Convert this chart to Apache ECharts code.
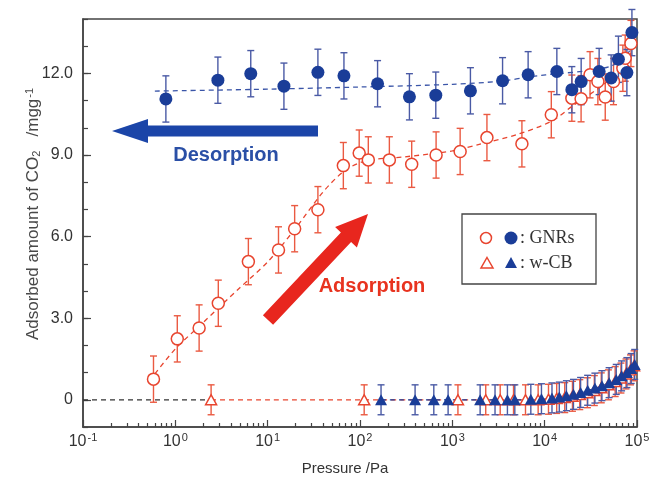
<!DOCTYPE html>
<html>
<head>
<meta charset="utf-8">
<script src="https://cdn.jsdelivr.net/npm/echarts@6/dist/echarts.min.js"></script>
<style>
html, body { margin: 0; padding: 0; background: #fff; }
#chart { width: 656px; height: 480px; }
</style>
</head>
<body>
<div id="chart"></div>
<script>
// GNRs adsorption (open red circles)
var adsP = [0.58, 1.05, 1.81, 2.92, 6.18, 13.1, 19.6, 35, 66, 98, 123, 208, 363, 667, 1215, 2370, 5670, 11800, 19700, 24800, 31000, 37700, 45300, 55700, 70300, 74500, 86000];
var adsV = [0.76, 2.24, 2.64, 3.55, 5.08, 5.51, 6.29, 6.99, 8.61, 9.07, 8.82, 8.82, 8.66, 9.0, 9.13, 9.64, 9.41, 10.48, 11.09, 11.07, 11.95, 11.7, 11.13, 11.7, 12.19, 12.56, 13.1];
// GNRs desorption (filled blue circles)
var desP = [0.79, 2.89, 6.56, 15.0, 35, 67, 155, 343, 662, 1570, 3500, 6620, 13550, 19700, 24850, 38900, 52500, 62900, 77700, 88100];
var desV = [11.06, 11.75, 11.99, 11.53, 12.04, 11.91, 11.62, 11.14, 11.2, 11.36, 11.73, 11.95, 12.07, 11.4, 11.7, 12.07, 11.83, 12.52, 12.03, 13.5];
// w-CB adsorption (open red triangles)
var cbAdsP = [2.44, 111, 1150, 2300, 3300, 4600, 6200, 8500, 11000, 13500, 16500, 20000, 24000, 29000, 34500, 41000, 49000, 58000, 67000, 76000, 85000, 93000];
var cbAdsV = [0, 0, 0, 0, 0, 0, 0, 0, 0.02, 0.05, 0.08, 0.13, 0.19, 0.26, 0.34, 0.44, 0.55, 0.67, 0.8, 0.95, 1.1, 1.25];
// w-CB desorption (filled blue triangles)
var cbDesP = [169, 395, 630, 900, 2000, 2900, 3950, 4750, 7080, 9230, 12000, 14400, 17200, 20500, 24500, 29200, 35000, 41700, 49900, 59600, 68100, 77700, 86500, 94400];
var cbDesV = [0, 0, 0, 0, 0, 0, 0, 0, 0.02, 0.04, 0.07, 0.1, 0.15, 0.2, 0.27, 0.35, 0.43, 0.52, 0.63, 0.75, 0.88, 1.0, 1.15, 1.3];

// dashed guide lines
var adsFitP = [0.6, 1, 2, 5, 10, 20, 40, 70, 120, 300, 1000, 2000, 5000, 12000, 20000, 40000, 70000, 95000];
var adsFitV = [0.95, 1.87, 2.84, 4.12, 5.07, 6.3, 7.65, 8.45, 8.8, 8.93, 9.15, 9.4, 9.75, 10.25, 10.8, 11.5, 12.2, 13.1];
var desFitP = [0.6, 10, 100, 1000, 3500, 7000, 15000, 30000, 50000, 70000, 85000, 92000];
var desFitV = [11.35, 11.42, 11.5, 11.6, 11.72, 11.88, 12.0, 12.1, 12.25, 12.5, 12.9, 13.4];
var cbAdsFitP = [2.44, 8000, 15000, 30000, 50000, 70000, 93000];
var cbAdsFitV = [0, 0, 0.08, 0.28, 0.56, 0.85, 1.25];
var cbDesFitP = [169, 8000, 15000, 30000, 50000, 70000, 94400];
var cbDesFitV = [0, 0, 0.1, 0.35, 0.63, 0.9, 1.3];
var baseP = [0.1, 2.2];
var baseV = [0, 0];

// error bar half widths
var gnrErr = 0.85;
var cbErr = 0.55;

// axis ticks
var yLabels = [0, 3, 6, 9, 12];
var minorX = [];
for (var d = -1; d < 5; d++) {
  for (var k = 2; k < 10; k++) minorX.push(d + Math.log10(k));
}

var red = '#e8452f';
var blue = '#1a3d98';
var errRed = '#ea5a42';
var errBlue = '#4a5aa5';
var axisCol = '#444';
var font = "'Liberation Sans', Arial, sans-serif";

function pairs(xs, ys, err) {
  return xs.map(function (x, i) {
    return err == null ? [x, ys[i]] : [x, ys[i], err];
  });
}

function errorBars(color, cap) {
  return function (params, api) {
    var x = api.value(0), y = api.value(1), e = api.value(2);
    var top = api.coord([x, y + e]);
    var bot = api.coord([x, y - e]);
    var st = { stroke: color, lineWidth: 1.4 };
    return {
      type: 'group',
      children: [
        { type: 'line', shape: { x1: top[0], y1: top[1], x2: bot[0], y2: bot[1] }, style: st },
        { type: 'line', shape: { x1: top[0] - cap, y1: top[1], x2: top[0] + cap, y2: top[1] }, style: st },
        { type: 'line', shape: { x1: bot[0] - cap, y1: bot[1], x2: bot[0] + cap, y2: bot[1] }, style: st }
      ]
    };
  };
}

function errSeries(xs, ys, err, color) {
  return {
    type: 'custom',
    renderItem: errorBars(color, 3.5),
    data: pairs(xs, ys, err),
    encode: { x: 0, y: 1 },
    z: 1,
    silent: true
  };
}

function fitSeries(xs, ys, color, smooth) {
  return {
    type: 'line',
    data: pairs(xs, ys),
    symbol: 'none',
    smooth: smooth,
    lineStyle: { color: color, width: 1.3, type: [5, 4] },
    z: 2,
    silent: true
  };
}

var chart = echarts.init(document.getElementById('chart'));

var option = {
  animation: false,
  backgroundColor: '#fff',
  grid: {
    left: 83, right: 19, top: 19, bottom: 53,
    show: true, borderColor: axisCol, borderWidth: 1.5,
    outerBoundsMode: 'none'
  },
  xAxis: [
    {
      type: 'log',
      logBase: 10,
      min: 0.1,
      max: 100000,
      splitNumber: 6,
      name: 'Pressure /Pa',
      nameLocation: 'middle',
      nameGap: 34,
      nameTextStyle: { fontFamily: font, fontSize: 15, color: '#333', padding: [0, 30, 0, 0] },
      axisLine: { onZero: false, lineStyle: { color: axisCol, width: 1.5 } },
      axisTick: { inside: true, length: 7, lineStyle: { color: axisCol, width: 1.2 } },
      splitLine: { show: false },
      minorTick: { show: false },
      axisLabel: {
        margin: 5,
        fontFamily: font,
        fontSize: 16,
        color: '#333',
        formatter: function (v) {
          return '10{s|' + Math.round(Math.log10(v)) + '}';
        },
        rich: {
          s: { fontFamily: font, fontSize: 11, color: '#333', verticalAlign: 'top', padding: [0, 0, 8, 1] }
        }
      }
    },
    {
      type: 'value',
      min: -1,
      max: 5,
      position: 'bottom',
      axisLine: { show: false, onZero: false },
      axisLabel: { show: false },
      splitLine: { show: false },
      axisTick: { inside: true, length: 4, customValues: minorX, lineStyle: { color: axisCol, width: 1.2 } }
    }
  ],
  yAxis: [
    {
      type: 'value',
      min: -1,
      max: 14,
      interval: 1,
      axisLine: { onZero: false, lineStyle: { color: axisCol, width: 1.5 } },
      axisTick: { inside: true, length: 5, lineStyle: { color: axisCol, width: 1.2 } },
      splitLine: { show: false },
      axisLabel: {
        margin: 10,
        fontFamily: font,
        fontSize: 16,
        color: '#333',
        formatter: function (v) {
          if (yLabels.indexOf(v) < 0) return '';
          return v === 0 ? '0' : v.toFixed(1);
        }
      }
    },
    {
      type: 'value',
      min: -1,
      max: 14,
      position: 'left',
      axisLine: { show: false, onZero: false },
      axisLabel: { show: false },
      splitLine: { show: false },
      axisTick: { inside: true, length: 8, customValues: yLabels, lineStyle: { color: axisCol, width: 1.2 } }
    }
  ],
  series: [
    errSeries(cbAdsP, cbAdsV, cbErr, errRed),
    errSeries(cbDesP, cbDesV, cbErr, errBlue),
    errSeries(adsP, adsV, gnrErr, errRed),
    errSeries(desP, desV, gnrErr, errBlue),
    fitSeries(baseP, baseV, '#333', false),
    fitSeries(cbAdsFitP, cbAdsFitV, red, 0.3),
    fitSeries(cbDesFitP, cbDesFitV, blue, 0.3),
    fitSeries(adsFitP, adsFitV, red, 0.3),
    fitSeries(desFitP, desFitV, '#3a55a8', 0.3),
    {
      type: 'scatter',
      data: pairs(cbAdsP, cbAdsV),
      symbol: 'triangle',
      symbolSize: [11, 10],
      itemStyle: { color: '#fff', borderColor: red, borderWidth: 1.5, opacity: 1 },
      z: 3
    },
    {
      type: 'scatter',
      data: pairs(adsP, adsV),
      symbol: 'circle',
      symbolSize: 12,
      itemStyle: { color: '#fff', borderColor: red, borderWidth: 1.5, opacity: 1 },
      z: 3
    },
    {
      type: 'scatter',
      data: pairs(cbDesP, cbDesV),
      symbol: 'triangle',
      symbolSize: [12, 11],
      itemStyle: { color: blue, opacity: 1 },
      z: 4
    },
    {
      type: 'scatter',
      data: pairs(desP, desV),
      symbol: 'circle',
      symbolSize: 13,
      itemStyle: { color: blue, opacity: 1 },
      z: 4
    }
  ],
  graphic: [
    // y axis title
    {
      type: 'text',
      x: 33, y: 214,
      rotation: Math.PI / 2,
      style: {
        text: 'Adsorbed amount of CO{sub|2}   /mgg{sup|-1}',
        fill: '#484848',
        font: "17px 'Liberation Sans', Arial, sans-serif",
        align: 'center',
        verticalAlign: 'middle',
        rich: {
          sub: { fill: '#484848', font: "11px 'Liberation Sans', Arial, sans-serif", verticalAlign: 'bottom', padding: [7, 0, 0, 0] },
          sup: { fill: '#484848', font: "11px 'Liberation Sans', Arial, sans-serif", verticalAlign: 'top', padding: [0, 0, 7, 1] }
        }
      },
      z: 10
    },
    // desorption arrow
    {
      type: 'polygon',
      shape: { points: [[112, 131], [148, 119], [148, 125.5], [318, 125.5], [318, 136.5], [148, 136.5], [148, 143]] },
      style: { fill: '#1b45a8' },
      z: 10
    },
    {
      type: 'text',
      x: 226, y: 155,
      style: { text: 'Desorption', fill: '#2a4fa6', font: "bold 20px 'Liberation Sans', Arial, sans-serif", align: 'center', verticalAlign: 'middle' },
      z: 10
    },
    // adsorption arrow
    {
      type: 'polygon',
      shape: { points: [[368, 214], [356.9, 247.6], [351.1, 242.1], [273.1, 324.8], [262.9, 315.2], [340.9, 232.5], [335.1, 227.0]] },
      style: { fill: '#e8261e' },
      z: 10
    },
    {
      type: 'text',
      x: 372, y: 286,
      style: { text: 'Adsorption', fill: '#e8331f', font: "bold 20px 'Liberation Sans', Arial, sans-serif", align: 'center', verticalAlign: 'middle' },
      z: 10
    },
    // legend box
    {
      type: 'rect',
      shape: { x: 462, y: 214, width: 134, height: 70 },
      style: { fill: '#fff', stroke: axisCol, lineWidth: 1.3 },
      z: 10
    },
    {
      type: 'circle',
      shape: { cx: 486, cy: 238, r: 5.5 },
      style: { fill: '#fff', stroke: red, lineWidth: 1.5 },
      z: 11
    },
    {
      type: 'circle',
      shape: { cx: 511, cy: 238, r: 6.5 },
      style: { fill: blue },
      z: 11
    },
    {
      type: 'text',
      x: 520, y: 238,
      style: { text: ': GNRs', fill: '#333', font: "18px 'Liberation Serif', 'Times New Roman', serif", verticalAlign: 'middle' },
      z: 11
    },
    {
      type: 'polygon',
      shape: { points: [[487, 257.5], [493, 268], [481, 268]] },
      style: { fill: '#fff', stroke: red, lineWidth: 1.5 },
      z: 11
    },
    {
      type: 'polygon',
      shape: { points: [[511, 257], [517, 268], [505, 268]] },
      style: { fill: blue },
      z: 11
    },
    {
      type: 'text',
      x: 520, y: 263,
      style: { text: ': w-CB', fill: '#333', font: "18px 'Liberation Serif', 'Times New Roman', serif", verticalAlign: 'middle' },
      z: 11
    }
  ]
};

chart.setOption(option);
</script>
</body>
</html>
